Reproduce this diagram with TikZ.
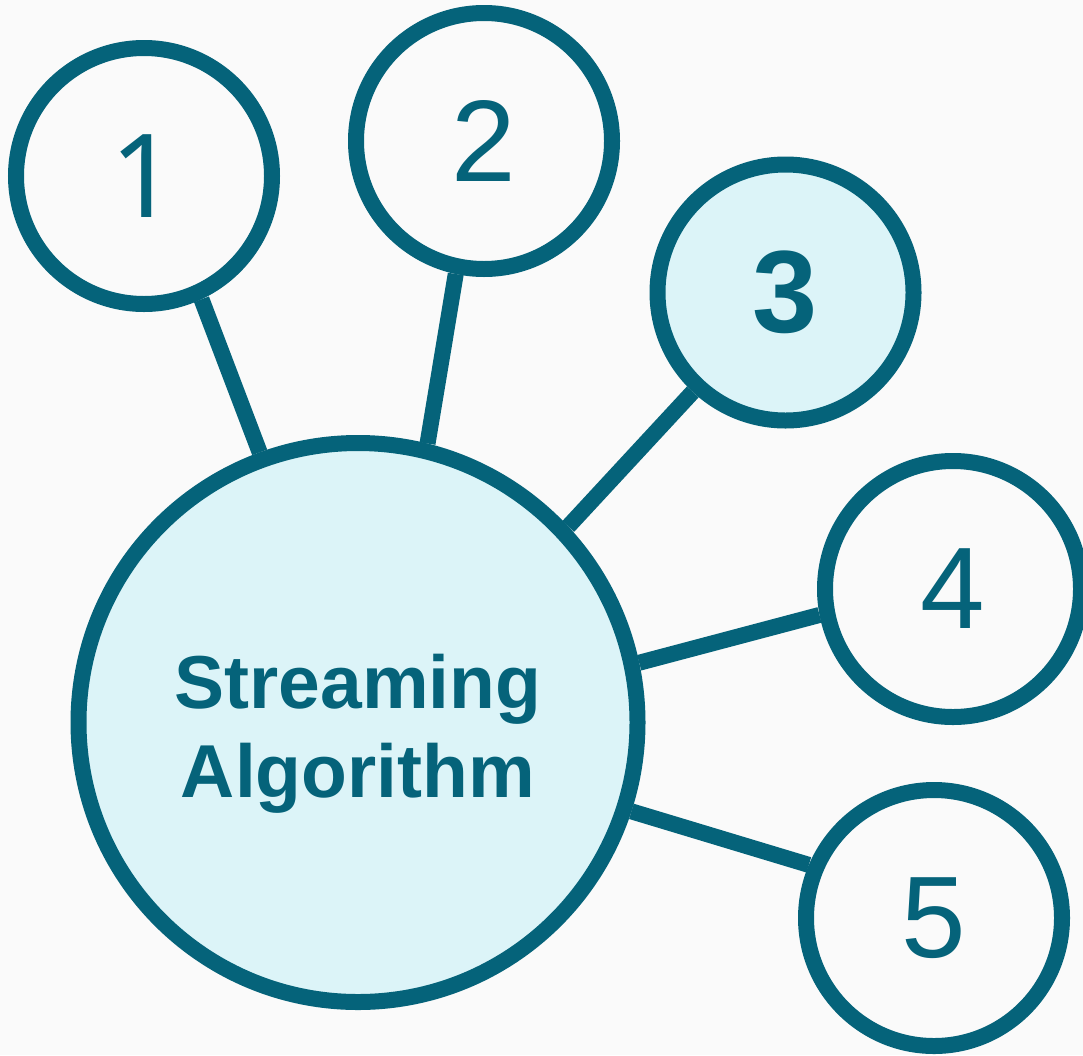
\documentclass[tikz,border=0pt]{standalone}
\usepackage{fontspec}
\newfontfamily\digitf{Liberation Sans}
\newfontfamily\onef{Noto Sans}
\definecolor{inkteal}{HTML}{05637A}
\definecolor{paleteal}{HTML}{DCF4F8}
\definecolor{paper}{HTML}{FAFAFA}
\begin{document}
\begin{tikzpicture}[x=1pt,y=-1pt,
  ring/.style={circle, draw=inkteal, line width=16pt, minimum size=256pt,
    inner sep=0pt, text=inkteal, font=\digitf\fontsize{116}{116}\selectfont},
  hub/.style={circle, draw=inkteal, fill=paleteal, line width=16pt,
    minimum size=559pt, inner sep=0pt},
  hubtext/.style={align=center, inner sep=0pt, text=inkteal,
    font=\digitf\bfseries\fontsize{75}{89}\selectfont},
  spoke/.style={draw=inkteal, line width=16pt}]

  % page background
  \fill[paper] (0,0) rectangle (1083,1055);
  \useasboundingbox (0,0) rectangle (1083,1055);

  % central circle and its caption
  \node[hub] (hub) at (358,722.5) {};
  \node[hubtext, yshift=-11.5pt] (caption) at (hub.center) {Streaming\\Algorithm};

  % numbered satellites
  \node[ring, font=\onef\fontsize{116}{116}\selectfont] (n1) at (144,176) {1};
  \node[ring] (n2) at (484,141) {2};
  \node[ring, fill=paleteal, font=\digitf\bfseries\fontsize{117}{117}\selectfont] (n3) at (785.5,292.5) {3};
  \node[ring] (n4) at (953,589) {4};
  \node[ring] (n5) at (934,918) {5};

  % spokes from satellites to the hub
  \draw[spoke] (n1.-65.7)  -- (hub.110.5);
  \draw[spoke] (n2.258.8)  -- (hub.76.5);
  \draw[spoke] (n3.227.5)  -- (hub.43.9);
  \draw[spoke] (n4.191.7)  -- (hub.12.1);
  \draw[spoke] (n5.157.7)  -- (hub.-18.6);
\end{tikzpicture}
\end{document}
